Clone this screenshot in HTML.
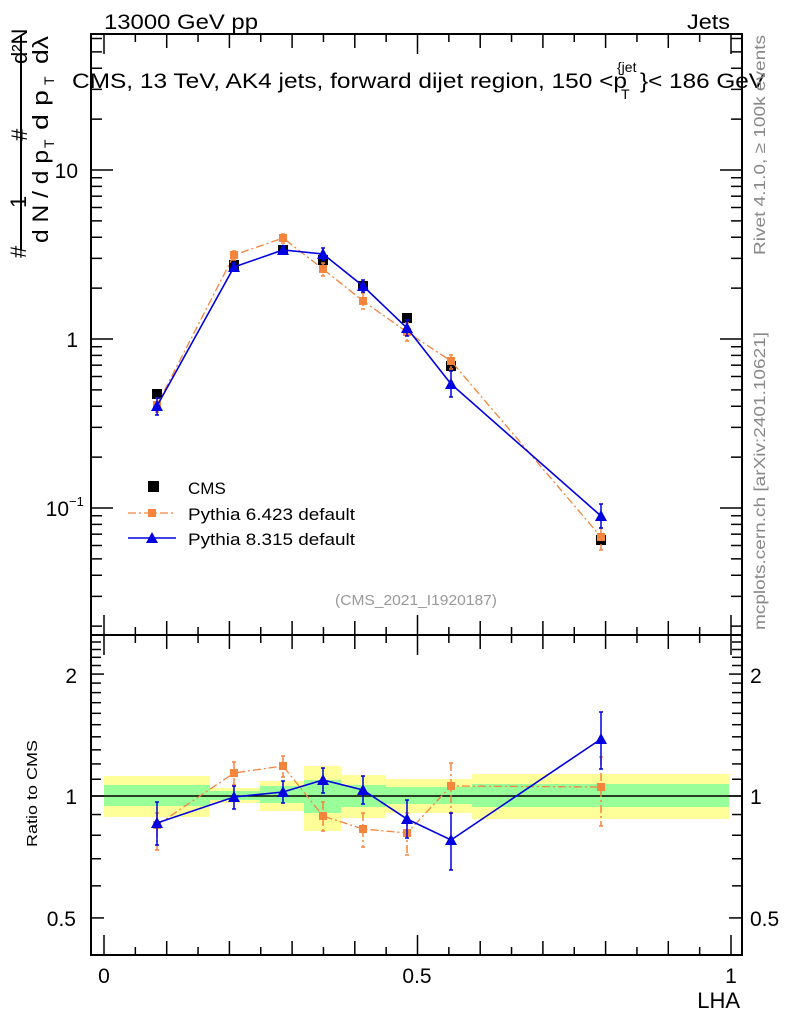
<!DOCTYPE html>
<html><head><meta charset="utf-8"><style>
html,body{margin:0;padding:0;background:#fff}
svg{display:block;font-family:"Liberation Sans",sans-serif}
</style></head><body>
<svg id="s" width="786" height="1024" viewBox="0 0 786 1024" xmlns="http://www.w3.org/2000/svg">
<text x="104" y="29" font-size="21" textLength="154" lengthAdjust="spacingAndGlyphs">13000 GeV pp</text>
<text x="687" y="29" font-size="21" textLength="43" lengthAdjust="spacingAndGlyphs">Jets</text>
<text x="72" y="88" font-size="21" textLength="555" lengthAdjust="spacingAndGlyphs">CMS, 13 TeV, AK4 jets, forward dijet region, 150 &lt;p</text>
<text x="621" y="99" font-size="14">T</text>
<text x="617" y="72" font-size="14">{jet</text>
<text x="640" y="88" font-size="21" textLength="125" lengthAdjust="spacingAndGlyphs">}&lt; 186 GeV</text>
<text transform="translate(765,255) rotate(-90)" font-size="16" fill="#888" textLength="220" lengthAdjust="spacingAndGlyphs">Rivet 4.1.0, ≥ 100k events</text>
<text transform="translate(765,630) rotate(-90)" font-size="16" fill="#888" textLength="298" lengthAdjust="spacingAndGlyphs">mcplots.cern.ch [arXiv:2401.10621]</text>
<text x="335" y="605" font-size="15" fill="#999" textLength="162" lengthAdjust="spacingAndGlyphs">(CMS_2021_I1920187)</text>
<g font-size="22">
<text transform="translate(26,258) rotate(-90)">#</text>
<text transform="translate(26,208) rotate(-90)">1</text>
<line x1="21" y1="35" x2="21" y2="250" stroke="#000" stroke-width="2"/>
<text transform="translate(48,243) rotate(-90)" textLength="93" lengthAdjust="spacingAndGlyphs">d N / d p</text>
<text transform="translate(54,148) rotate(-90)" font-size="14">T</text>
<text transform="translate(27,141) rotate(-90)">#</text>
<text transform="translate(48,130) rotate(-90)" textLength="40" lengthAdjust="spacingAndGlyphs">d p</text>
<text transform="translate(54,85) rotate(-90)" font-size="14">T</text>
<text transform="translate(48,64) rotate(-90)" textLength="28" lengthAdjust="spacingAndGlyphs">dλ</text>
<text transform="translate(27,64) rotate(-90)">d²N</text>
</g>
<text transform="translate(37,847) rotate(-90)" font-size="15" textLength="107" lengthAdjust="spacingAndGlyphs">Ratio to CMS</text>
<g font-size="21">
<text x="78" y="178" text-anchor="end">10</text>
<text x="78" y="347" text-anchor="end">1</text>
<text x="69" y="516" text-anchor="end">10</text><text x="69" y="506" font-size="13">−1</text>
<text x="77" y="683" text-anchor="end">2</text><text x="750" y="683">2</text>
<text x="77" y="804" text-anchor="end">1</text><text x="750" y="804">1</text>
<text x="76" y="926" text-anchor="end">0.5</text><text x="750" y="926">0.5</text>
<text x="104" y="983" text-anchor="middle">0</text>
<text x="417" y="983" text-anchor="middle">0.5</text>
<text x="731" y="983" text-anchor="middle">1</text>
<text x="740" y="1008" font-size="22" text-anchor="end">LHA</text>
</g>
<g id="bands"></g>
<line x1="91" y1="796" x2="742" y2="796" stroke="#000" stroke-width="1.5"/>
<g id="g"></g>
<rect x="91" y="34" width="651" height="601" fill="none" stroke="#000" stroke-width="2"/>
<rect x="91" y="635" width="651" height="320" fill="none" stroke="#000" stroke-width="2"/>
<rect x="148" y="481" width="11" height="11" fill="#000"/>
<text x="188" y="494" font-size="17">CMS</text>
<line x1="128" y1="513" x2="176" y2="513" stroke="#f5843c" stroke-width="1.3" stroke-dasharray="8,3,2,3"/>
<rect x="148" y="509" width="8" height="8" fill="#f5843c"/>
<text x="188" y="520" font-size="17" textLength="167" lengthAdjust="spacingAndGlyphs">Pythia 6.423 default</text>
<line x1="128" y1="538" x2="176" y2="538" stroke="#0000e0" stroke-width="1.5"/>
<polygon points="152,532 158,543 146,543" fill="#0000e0"/>
<text x="188" y="545" font-size="17" textLength="167" lengthAdjust="spacingAndGlyphs">Pythia 8.315 default</text>
</svg>
<script>
const NS="http://www.w3.org/2000/svg",g=document.getElementById('g'),b=document.getElementById('bands');
function el(t,a,p){const e=document.createElementNS(NS,t);for(const k in a)e.setAttribute(k,a[k]);(p||g).appendChild(e);return e;}
function ln(x1,y1,x2,y2,c,w,d){return el('line',{x1,y1,x2,y2,stroke:c||'#000','stroke-width':w||1.5,'stroke-dasharray':d||'none'});}
const L=91,R=742;
const ym=v=>339-169*Math.log10(v);
for(let d=-2;d<=1;d++)for(let k=1;k<=9;k++){const y=ym(k*Math.pow(10,d));if(y<35||y>634)continue;const len=k==1?22:11;ln(L,y,L+len,y);ln(R,y,R-len,y);}
const yr=v=>796-405*Math.log10(v);
for(let v=0.5;v<=2.51;v+=0.1){const y=yr(v);if(y<636||y>954)continue;const maj=Math.abs(v-0.5)<1e-6||Math.abs(v-1)<1e-6||Math.abs(v-2)<1e-6;const len=maj?13:10;ln(L,y,L+len,y);ln(R,y,R-len,y);}
const xv=v=>104+627*v;
for(let i=0;i<=20;i++){const x=xv(i*0.05);const len=(i%10==0)?20:(i%2==0?14:8);
ln(x,34,x,34+len);ln(x,635,x,635-len);ln(x,635,x,635+len);ln(x,955,x,955-len);}
const B=[[104,210,776,817,785,806],[210,260,788,803,791,800],[260,304,781,811,786,803],[304,341,766,831,780,813],[341,386,775,818,785,807],[386,472,779,813,787,804],[472,729,774,819,784,807]];
B.forEach(q=>{el('rect',{x:q[0],y:q[2],width:q[1]-q[0],height:q[3]-q[2],fill:'#ffff99'},b);el('rect',{x:q[0],y:q[4],width:q[1]-q[0],height:q[5]-q[4],fill:'#99ff99'},b);});
const X=[157,234,283,323,363,407,451,601];
function series(pts,col,dash,mark,errs,noline){
 if(!noline)el('polyline',{points:pts.map((y,i)=>X[i]+','+y).join(' '),fill:'none',stroke:col,'stroke-width':dash?1.3:1.6,'stroke-dasharray':dash||'none'});
 pts.forEach((y,i)=>{const x=X[i];if(errs){const e=errs[i];ln(x,e[0],x,e[1],col,1.5,dash);ln(x-2,e[0],x+2,e[0],col,1.5);ln(x-2,e[1],x+2,e[1],col,1.5);}
  if(mark=='sq')el('rect',{x:x-5,y:y-5,width:10,height:10,fill:col});
  else if(mark=='s8')el('rect',{x:x-4,y:y-4,width:8,height:8,fill:col});
  else el('polygon',{points:`${x},${y-6} ${x+6},${y+5} ${x-6},${y+5}`,fill:col});});
}
series([394,265,250,260,286,318,366,540],'#000',null,'sq',null,true);
series([405,255,238,269,301,332,361,537],'#f5843c','8,3,2,3','s8',[[398,412],[251,260],[234,243],[263,276],[293,309],[323,341],[355,369],[528,550]]);
series([406,267,250,254,286,328,384,516],'#0000e0',null,'tri',[[398,415],[263,271],[246,254],[248,260],[280,292],[320,336],[371,397],[504,528]]);
series([825,773,766,816,829,833,786,787],'#f5843c','8,3,2,3','s8',[[813,850],[762,785],[756,777],[802,831],[813,847],[813,855],[763,813],[757,826]]);
series([823,797,792,780,790,819,840,739],'#0000e0',null,'tri',[[802,845],[786,809],[781,803],[768,793],[776,804],[800,838],[813,870],[712,769]]);
</script>
</body></html>
